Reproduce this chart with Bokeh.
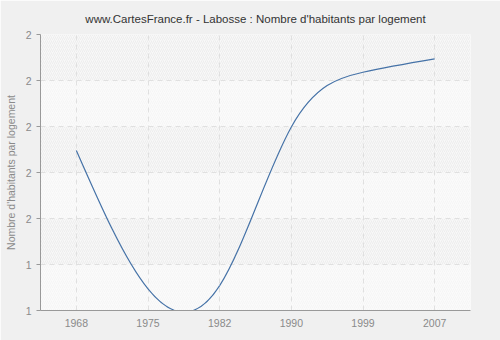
from bokeh.plotting import figure
from bokeh.models import Range1d, FixedTicker, CustomJSTickFormatter, BoxAnnotation
from bokeh.embed import file_html
from bokeh.resources import INLINE

# ---- data ----
years = ["1968", "1975", "1982", "1990", "1999", "2007"]
values = [1.648, 1.347, 1.354, 1.699, 1.818, 1.847]
y_ticks = [1.3, 1.4, 1.5, 1.6, 1.7, 1.8, 1.9]

FONT = "Liberation Sans"
GRID = "#e0e0e0"
AXIS = "#999999"
LABEL = "#8a8a8a"

p = figure(width=500, height=340, output_backend="svg", toolbar_location=None,
           x_range=Range1d(-0.5, len(years) - 0.5),
           y_range=Range1d(y_ticks[0], y_ticks[-1]),
           min_border_left=40, min_border_right=30, min_border_top=34, min_border_bottom=30)

p.background_fill_color = "#fbfbfb"
p.border_fill_color = "#f0f0f0"
p.outline_line_color = None

# alternating bands (hatched / plain)
for i in range(len(y_ticks) - 1):
    hatched = (len(y_ticks) - 2 - i) % 2 == 0
    p.add_layout(BoxAnnotation(bottom=y_ticks[i], top=y_ticks[i + 1],
                               fill_color="#f8f8f8" if hatched else "#fbfbfb",
                               fill_alpha=1.0, line_color=None,
                               hatch_pattern="right_diagonal_line",
                               hatch_color="#eaeaea" if hatched else "#f4f4f4",
                               hatch_weight=0.8, hatch_scale=4, level="image"))

# title
p.title.text = "www.CartesFrance.fr - Labosse : Nombre d'habitants par logement"
p.title.text_font = FONT
p.title.text_font_size = "11.5px"
p.title.text_font_style = "normal"
p.title.text_color = "#333333"
p.title.align = "center"
p.title.standoff = 20

# axes
xs = list(range(len(years)))
p.xaxis.ticker = FixedTicker(ticks=xs)
p.xaxis.major_label_overrides = {i: y for i, y in enumerate(years)}
p.yaxis.ticker = FixedTicker(ticks=y_ticks)
p.yaxis.formatter = CustomJSTickFormatter(code="return Math.round(tick).toString();")

for ax in (p.xaxis[0], p.yaxis[0]):
    ax.axis_line_color = AXIS
    ax.major_tick_line_color = AXIS
    ax.minor_tick_line_color = None
    ax.major_label_text_font = FONT
    ax.major_label_text_font_size = "10.5px"
    ax.major_label_text_color = LABEL
p.xaxis.major_tick_out = 0
p.xaxis.major_tick_in = 0
p.yaxis.major_tick_out = 4
p.yaxis.major_tick_in = 0
p.xaxis.major_label_standoff = 8
p.yaxis.major_label_standoff = 5

p.yaxis.axis_label = "Nombre d'habitants par logement"
p.yaxis.axis_label_text_font = FONT
p.yaxis.axis_label_text_font_size = "10.5px"
p.yaxis.axis_label_text_font_style = "normal"
p.yaxis.axis_label_text_color = LABEL
p.yaxis.axis_label_standoff = 6

for g in (p.xgrid[0], p.ygrid[0]):
    g.grid_line_color = GRID
    g.grid_line_dash = "5 4"
    g.level = "underlay"

# smooth curve through the data points: natural cubic spline -> cubic Bezier segments
n = len(values)
rhs = [6.0 * (values[i + 1] - 2 * values[i] + values[i - 1]) for i in range(1, n - 1)]
m = len(rhs)
cp, dp = [0.0] * m, [0.0] * m
for i in range(m):
    denom = 4.0 - (cp[i - 1] if i > 0 else 0.0)
    cp[i] = 1.0 / denom
    dp[i] = (rhs[i] - (dp[i - 1] if i > 0 else 0.0)) / denom
M_inner = [0.0] * m
for i in reversed(range(m)):
    M_inner[i] = dp[i] - (cp[i] * M_inner[i + 1] if i + 1 < m else 0.0)
M = [0.0] + M_inner + [0.0]
deriv = [values[i + 1] - values[i] - (2 * M[i] + M[i + 1]) / 6.0 for i in range(n - 1)]
deriv.append(values[n - 1] - values[n - 2] + (M[n - 2] + 2 * M[n - 1]) / 6.0)

x0 = xs[:-1]
x1 = xs[1:]
y0 = values[:-1]
y1 = values[1:]
cx0 = [xs[i] + 1.0 / 3 for i in range(n - 1)]
cx1 = [xs[i + 1] - 1.0 / 3 for i in range(n - 1)]
cy0 = [values[i] + deriv[i] / 3.0 for i in range(n - 1)]
cy1 = [values[i + 1] - deriv[i + 1] / 3.0 for i in range(n - 1)]

p.bezier(x0=x0, y0=y0, x1=x1, y1=y1, cx0=cx0, cy0=cy0, cx1=cx1, cy1=cy1,
         line_color="#4572a7", line_width=1.2)

open("out.html", "w").write(file_html(p, INLINE))
